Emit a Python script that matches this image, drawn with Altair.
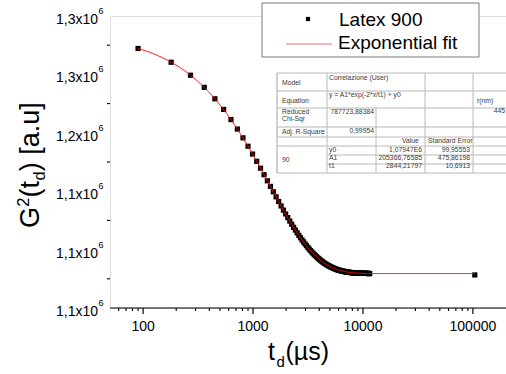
import altair as alt
import numpy as np
import pandas as pd

FONT = "Liberation Sans"

# Correlator channels: uniform 90 µs lag spacing, plus one long-lag point
lag_us = [90 * k for k in range(1, 129)] + [104000]
g2_counts = [
    1272200, 1260400, 1249300, 1238900, 1229100, 1220000, 1211300, 1203200, 1195700, 1188500,
    1181800, 1175600, 1169700, 1164100, 1158900, 1154100, 1149500, 1145200, 1141200, 1137400,
    1133800, 1130500, 1127400, 1124400, 1121700, 1119100, 1116700, 1114400, 1112200, 1110200,
    1108300, 1106600, 1104900, 1103400, 1101900, 1100500, 1099200, 1098000, 1096900, 1095800,
    1094800, 1093900, 1093000, 1092200, 1091400, 1090600, 1090000, 1089300, 1088700, 1088100,
    1087600, 1087100, 1086600, 1086200, 1085800, 1085400, 1085000, 1084700, 1084400, 1084100,
    1083800, 1083500, 1083300, 1083000, 1082800, 1082600, 1082400, 1082200, 1082100, 1081900,
    1081800, 1081600, 1081500, 1081400, 1081300, 1081100, 1081000, 1080900, 1080900, 1080800,
    1080700, 1080600, 1080500, 1080500, 1080400, 1080400, 1080300, 1080300, 1080200, 1080200,
    1080100, 1080100, 1080000, 1080000, 1080000, 1079900, 1079900, 1079900, 1079900, 1079800,
    1079800, 1079800, 1079800, 1079800, 1079700, 1079700, 1079700, 1079700, 1079700, 1079700,
    1079700, 1079600, 1079600, 1079600, 1079600, 1079600, 1079600, 1079600, 1079600, 1079600,
    1079600, 1079600, 1079600, 1079600, 1079500, 1079500, 1079500, 1079500,
    1078300,
]

# Exponential fit: y = A1*exp(-2*x/t1) + y0
fit_y0 = 1.07947e6
fit_A1 = 205366.76585
fit_t1 = 2844.21797

y_tick_values = [1.05e6, 1.10e6, 1.15e6, 1.20e6, 1.25e6, 1.30e6]
y_tick_labels = ["1,1x10", "1,1x10", "1,1x10", "1,2x10", "1,3x10", "1,3x10"]
y_minor_values = [1.075e6, 1.125e6, 1.175e6, 1.225e6, 1.275e6]
x_tick_values = [100, 1000, 10000, 100000]
x_tick_labels = ["100", "1000", "10000", "100000"]
x_minor_values = ([60, 70, 80, 90]
                  + [m * 100 for m in range(2, 10)]
                  + [m * 1000 for m in range(2, 10)]
                  + [m * 10000 for m in range(2, 10)])

# Fit statistics table: (text, anchor x, baseline y, align)
table_cells = [
    ("Model", 282, 85, "left"),
    ("Correlazione (User)", 329, 80, "left"),
    ("Equation", 282, 103, "left"),
    ("y = A1*exp(-2*x/t1) + y0", 329, 97, "left"),
    ("r(nm)", 477, 103, "left"),
    ("Reduced", 282, 114, "left"),
    ("Chi-Sqr", 282, 121, "left"),
    ("787723,88384", 374, 114, "right"),
    ("445", 505, 113, "right"),
    ("Adj. R-Square", 282, 134, "left"),
    ("0,99954", 374, 133, "right"),
    ("Value", 402, 143, "left"),
    ("Standard Error", 428, 143, "left"),
    ("90", 282, 162, "left"),
    ("y0", 329, 152, "left"),
    ("1,07947E6", 422, 152, "right"),
    ("99,95553", 470, 152, "right"),
    ("A1", 329, 160, "left"),
    ("205366,76585", 422, 160, "right"),
    ("475,86198", 470, 160, "right"),
    ("t1", 329, 168, "left"),
    ("2844,21797", 422, 168, "right"),
    ("10,6913", 470, 168, "right"),
]

W, H = 396, 292
X0, Y0 = 110, 16
ONE = pd.DataFrame({"k": [0]})

points = pd.DataFrame({"t": lag_us, "g": g2_counts})
t_fit = np.geomspace(lag_us[0], lag_us[-1], 400)
fit = pd.DataFrame({"t": t_fit, "g": fit_y0 + fit_A1 * np.exp(-2 * t_fit / fit_t1)})

x_scale = alt.Scale(type="log", domain=[50, 200000])
y_scale = alt.Scale(domain=[1.05e6, 1.30e6], nice=False, zero=False)

y_axis = alt.Axis(values=y_tick_values, labels=False, tickSize=5, tickWidth=1.2,
                  tickColor="black", domainColor="black", domainWidth=1.2,
                  grid=False, title=None)


def text_at(s, x, y, size, align="left", angle=0, color="black"):
    return alt.Chart(ONE).mark_text(
        text=s, font=FONT, fontSize=size, align=align, baseline="alphabetic",
        angle=angle, color=color
    ).encode(x=alt.value(x - X0), y=alt.value(y - Y0))


def hline(x1, x2, y, color="#b8b8b8", width=1.0):
    return alt.Chart(ONE).mark_rule(color=color, strokeWidth=width).encode(
        x=alt.value(x1 - X0), x2=alt.value(x2 - X0), y=alt.value(y - Y0))


def vline(x, y1, y2, color="#b8b8b8", width=1.0):
    return alt.Chart(ONE).mark_rule(color=color, strokeWidth=width).encode(
        x=alt.value(x - X0), y=alt.value(y1 - Y0), y2=alt.value(y2 - Y0))


def box(x1, x2, y1, y2, fill="white", stroke=None, width=1.0):
    kw = {"fill": fill}
    if stroke:
        kw.update(stroke=stroke, strokeWidth=width)
    return alt.Chart(ONE).mark_rect(**kw).encode(
        x=alt.value(x1 - X0), x2=alt.value(x2 - X0),
        y=alt.value(y1 - Y0), y2=alt.value(y2 - Y0))


# data and fit
data_layer = alt.Chart(points).mark_square(size=27, color="black", opacity=1).encode(
    x=alt.X("t:Q", scale=x_scale, axis=None),
    y=alt.Y("g:Q", scale=y_scale, axis=y_axis),
)
fit_layer = alt.Chart(fit).mark_line(color="#ff0000", strokeWidth=1).encode(
    x=alt.X("t:Q", scale=x_scale, axis=None),
    y=alt.Y("g:Q", scale=y_scale, axis=None),
)

# bottom axis: baseline, major and minor ticks, labels
x_domain = alt.Chart(ONE).mark_rule(color="black", strokeWidth=1.2).encode(
    x=alt.value(0), x2=alt.value(W), y=alt.value(H))
xtick_df = pd.DataFrame({"t": x_tick_values, "lab": x_tick_labels})
x_major = alt.Chart(xtick_df).mark_rule(color="black", strokeWidth=1.2).encode(
    x=alt.X("t:Q", scale=x_scale, axis=None),
    y=alt.value(H), y2=alt.value(H + 6))
x_labels = alt.Chart(xtick_df).mark_text(
    font=FONT, fontSize=14, align="center", baseline="alphabetic", color="black"
).encode(x=alt.X("t:Q", scale=x_scale, axis=None), y=alt.value(H + 23), text="lab:N")
x_minor = alt.Chart(pd.DataFrame({"t": x_minor_values})).mark_rule(
    color="black", strokeWidth=1.1).encode(
    x=alt.X("t:Q", scale=x_scale, axis=None),
    y=alt.value(H), y2=alt.value(H + 3))

# left axis minor ticks and labels with superscript exponent
y_minor = alt.Chart(pd.DataFrame({"g": y_minor_values})).mark_rule(
    color="black", strokeWidth=1.1).encode(
    y=alt.Y("g:Q", scale=y_scale, axis=None),
    x=alt.value(-3), x2=alt.value(0))
ylab_df = pd.DataFrame({"g": y_tick_values, "lab": y_tick_labels})
y_labels = alt.Chart(ylab_df).mark_text(
    font=FONT, fontSize=14, align="right", baseline="alphabetic", dy=8, color="black"
).encode(y=alt.Y("g:Q", scale=y_scale, axis=None), x=alt.value(-12), text="lab:N")
y_exp = alt.Chart(ylab_df).mark_text(
    text="6", font=FONT, fontSize=9, align="left", baseline="alphabetic", dy=-2, color="black"
).encode(y=alt.Y("g:Q", scale=y_scale, axis=None), x=alt.value(-11.5))

# axis titles
titles = [
    text_at("t", 268, 360, 25),
    text_at("d", 276.5, 367, 15),
    text_at("(µs)", 285.5, 360, 25),
    text_at("G", 39, 228, 27, angle=270),
    text_at("2", 28.5, 206.8, 16.5, angle=270),
    text_at("(t", 39, 197.5, 27, angle=270),
    text_at("d", 45, 180.5, 16.5, angle=270),
    text_at(") [a.u]", 39, 171.2, 27, angle=270),
]

# legend
legend = [
    box(262, 479, 3, 57, stroke="#7a7a7a"),
    alt.Chart(ONE).mark_square(size=18, color="black", opacity=1).encode(
        x=alt.value(308 - X0), y=alt.value(19 - Y0)),
    hline(286, 332, 44, color="#f07070", width=1.2),
    text_at("Latex 900", 339, 26, 19),
    text_at("Exponential fit", 338, 49, 19),
]

# statistics table
c0, c1, c1b, c2, c3, c4 = 277, 327, 376, 425, 473, 530
rows = [73, 91, 108, 127, 137, 146, 155, 164, 173]
table = [box(c0, c4, rows[0], rows[-1])]
for r in rows[:6] + [rows[-1]]:
    table.append(hline(c0, c4, r))
for r in rows[6:8]:
    table.append(hline(c1, c4, r))
table.append(vline(c0, rows[0], rows[-1], color="#a0a0a0"))
table.append(vline(c1, rows[0], rows[-1]))
table.append(vline(c1b, rows[2], rows[-1]))
table.append(vline(c2, rows[0], rows[-1]))
table.append(vline(c3, rows[0], rows[-1]))
for s, x, y, a in table_cells:
    table.append(text_at(s, x, y, 6.8, align=a, color="#3a3a3a"))

chart = alt.layer(
    data_layer, fit_layer, x_domain, x_major, x_minor, x_labels,
    y_minor, y_labels, y_exp,
    *titles, *legend, *table,
).properties(
    width=W, height=H,
    padding={"left": X0, "top": Y0, "right": 0, "bottom": 374 - Y0 - H},
    autosize="none",
).configure_view(stroke=None).configure(background="white")

chart.save("out.html", embed_options={"renderer": "svg", "actions": False})
